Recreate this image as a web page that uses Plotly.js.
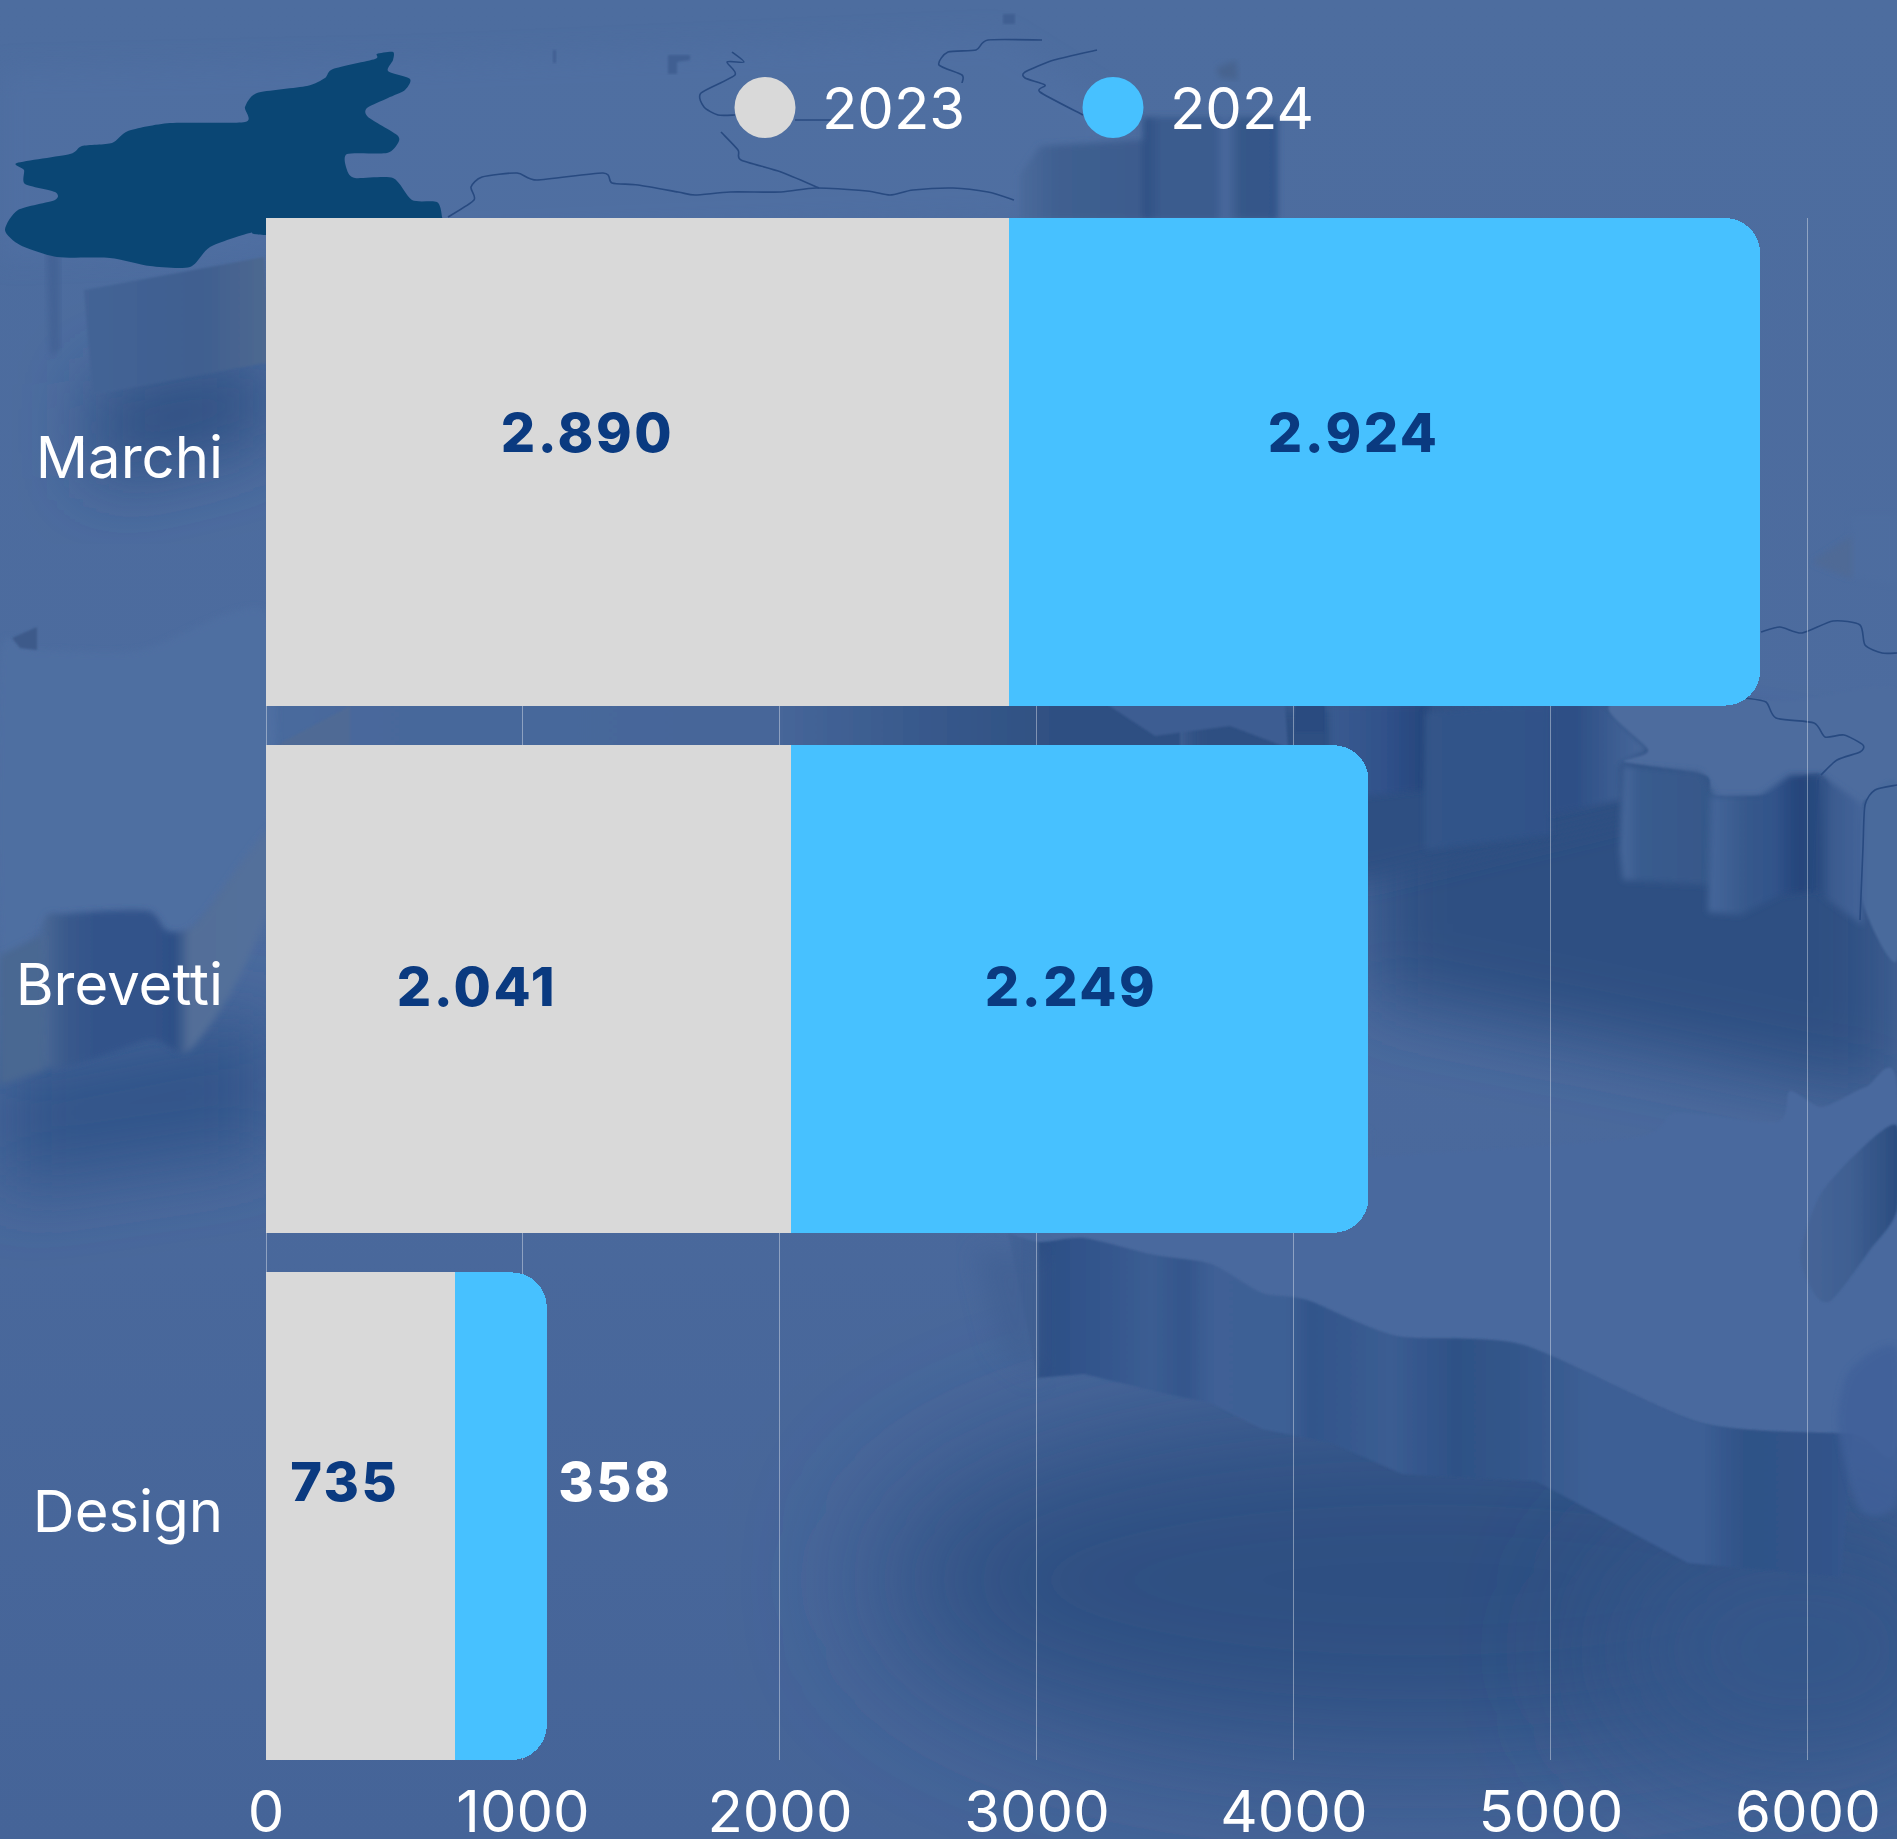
<!DOCTYPE html>
<html>
<head>
<meta charset="utf-8">
<script src="https://cdn.plot.ly/plotly-3.0.1.min.js"></script>
<style>html,body{margin:0;padding:0;background:#4c6b9e;overflow:hidden}#chart{width:1897px;height:1839px}</style>
</head>
<body>
<div id="chart"></div>
<script>
// ---- chart data ----
const categories = ["Marchi", "Brevetti", "Design"];
const seriesNames = ["2023", "2024"];
const values2023 = [2890, 2041, 735];
const values2024 = [2924, 2249, 358];
const xTicks = [0, 1000, 2000, 3000, 4000, 5000, 6000];

// ---- styling ----
const COL_2023 = "#d9d9d9", COL_2024 = "#47c1ff", COL_LABEL = "#0a3a80";
const W = 1897, H = 1839, L = 266, R = 86, T = 218, B = 79;
const X_MAX = 6012; // slightly past 6000 so that the last gridline is kept
const FONT = "Inter, 'Noto Sans', sans-serif";

// ---- decorative backdrop (relief map), drawn as one picture behind the chart ----
function sm(p, closed) {
  const n = p.length, g = i => closed ? p[(i + n) % n] : p[Math.max(0, Math.min(n - 1, i))];
  let d = "M" + p[0][0] + " " + p[0][1];
  const m = closed ? n : n - 1;
  for (let i = 0; i < m; i++) {
    const a = g(i - 1), b = g(i), c = g(i + 1), e = g(i + 2), k = 0.12;
    d += "C" + (b[0] + (c[0] - a[0]) * k).toFixed(1) + " " + (b[1] + (c[1] - a[1]) * k).toFixed(1) + " " +
         (c[0] - (e[0] - b[0]) * k).toFixed(1) + " " + (c[1] - (e[1] - b[1]) * k).toFixed(1) + " " + c[0] + " " + c[1];
  }
  return d + (closed ? "Z" : "");
}
function hgrad(id, x1, x2, stops) {
  return `<linearGradient id="${id}" gradientUnits="userSpaceOnUse" x1="${x1}" y1="0" x2="${x2}" y2="0">` +
    stops.map(s => `<stop offset="${((s[0] - x1) / (x2 - x1)).toFixed(4)}" stop-color="${s[1]}"/>`).join("") + `</linearGradient>`;
}
const poly = (pts, fill, filt, op) => `<path d="${sm(pts, true)}" fill="${fill}"${filt ? ` filter="url(#${filt})"` : ""}${op ? ` opacity="${op}"` : ""}/>`;
const hard = (pts, fill, filt, op) => `<path d="M${pts.map(p => p.join(" ")).join("L")}Z" fill="${fill}"${filt ? ` filter="url(#${filt})"` : ""}${op ? ` opacity="${op}"` : ""}/>`;
const line = pts => `<path d="${sm(pts, false)}" fill="none" stroke="#284a80" stroke-width="1.6" stroke-linejoin="round"/>`;

const piemonte = [[5,230],[18,210],[55,200],[55,192],[25,184],[24,170],[17,163],[70,154],[82,146],[112,143],[128,131],[170,123],[245,122],[245,107],[257,93],[307,86],[325,78],[333,69],[375,59],[377,54],[393,52],[393,60],[388,71],[410,79],[405,90],[388,98],[367,108],[368,117],[397,135],[398,143],[387,153],[347,154],[347,170],[355,178],[393,178],[412,200],[437,202],[442,217],[442,240],[266,235],[250,233],[210,247],[190,267],[150,266],[110,258],[57,257],[20,245]];
const islandTop = [[1008,1233],[1040,1242],[1084,1238],[1154,1255],[1211,1264],[1262,1293],[1307,1300],[1396,1336],[1523,1345],[1701,1423],[1853,1434]];
const islandBottom = [[1037,1378],[1084,1374],[1167,1394],[1211,1403],[1262,1429],[1332,1443],[1402,1474],[1536,1481],[1688,1563],[1841,1577]];

const bg = `<svg xmlns="http://www.w3.org/2000/svg" width="${W}" height="${H}" viewBox="0 0 ${W} ${H}">
<defs>
<linearGradient id="base" x1="0" y1="0" x2="0" y2="1"><stop offset="0" stop-color="#4d6d9f"/><stop offset="0.45" stop-color="#4c6b9e"/><stop offset="1" stop-color="#456498"/></linearGradient>
<filter id="b1" x="-5%" y="-5%" width="110%" height="110%"><feGaussianBlur stdDeviation="0.8"/></filter>
<filter id="b3" x="-10%" y="-10%" width="120%" height="120%"><feGaussianBlur stdDeviation="3"/></filter>
<filter id="b12" x="-30%" y="-30%" width="160%" height="160%"><feGaussianBlur stdDeviation="12"/></filter>
<filter id="b35" x="-50%" y="-50%" width="200%" height="200%"><feGaussianBlur stdDeviation="35"/></filter>
<filter id="b70" x="-60%" y="-60%" width="220%" height="220%"><feGaussianBlur stdDeviation="70"/></filter>
${hgrad("gGap", 266, 1180, [[266,"#4b6c9e"],[350,"#48689c"],[780,"#466699"],[900,"#3a5b8e"],[1060,"#2f5082"],[1180,"#2f5082"]])}
${hgrad("gIsl", 1000, 1860, [[1000,"#466598"],[1037,"#3f5f92"],[1040,"#2e5084"],[1075,"#30528a"],[1150,"#3b5d92"],[1185,"#34568c"],[1215,"#3f6096"],[1285,"#3e6095"],[1310,"#32558b"],[1390,"#3b5d92"],[1430,"#33558b"],[1455,"#2e5186"],[1515,"#33568a"],[1590,"#3d5f95"],[1700,"#3d5f95"],[1745,"#2f5287"],[1830,"#31538a"],[1860,"#3a5b90"]])}
${hgrad("gOval", 1800, 1897, [[1800,"#476698"],[1850,"#3f5f92"],[1897,"#2b4d80"]])}
${hgrad("gR0", 1330, 1430, [[1330,"#3a5b90"],[1385,"#30518a"],[1425,"#26467c"]])}
${hgrad("gR1", 1425, 1551, [[1425,"#34568a"],[1551,"#31538a"]])}
${hgrad("gR2", 1551, 1650, [[1551,"#2f5086"],[1575,"#2d4f86"],[1650,"#4a6a9c"]])}
${hgrad("gR3", 1623, 1715, [[1623,"#47689b"],[1640,"#395b8e"],[1715,"#365889"]])}
${hgrad("gR4", 1711, 1821, [[1711,"#45669a"],[1745,"#37598c"],[1775,"#31538a"],[1800,"#24447a"],[1821,"#2a4b80"]])}
${hgrad("gR5", 1821, 1865, [[1821,"#2b4c80"],[1830,"#3a5a8e"],[1865,"#45659a"]])}
${hgrad("gT", 1020, 1280, [[1020,"#4a6a9b"],[1060,"#3f5f90"],[1140,"#3c5c8e"],[1145,"#2f5084"],[1160,"#3a5b8e"],[1215,"#3a5b8e"],[1225,"#4a6a9e"],[1240,"#365889"],[1275,"#33558a"]])}
${hgrad("gLW", 43, 270, [[43,"#4a6895"],[65,"#3a5a8c"],[100,"#31528a"],[150,"#31528a"],[175,"#2e5086"],[190,"#536e98"],[270,"#52709c"]])}
${hgrad("gLW2", 84, 264, [[84,"#446496"],[200,"#3f5f90"],[264,"#4d6890"]])}
</defs>
<rect width="${W}" height="${H}" fill="url(#base)"/>
<!-- soft plateaus at the top -->
${hard([[0,70],[430,60],[1000,35],[1120,110],[1100,215],[0,260]],"#5171a4","b12",0.55)}
<!-- soft shadows -->
${hard([[1369,690],[1897,790],[1897,1100],[1369,995]],"#2f5082","b35")}
${hard([[1180,700],[1650,700],[1700,800],[1369,880],[1180,880]],"#2f5082","b12")}
${hard([[266,702],[1180,702],[1180,750],[266,750]],"url(#gGap)","b1")}
${hard([[275,746],[350,706],[350,746]],"#4f6a95","b1")}
${hard([[1108,705],[1285,705],[1288,748],[1230,726],[1155,736]],"#3c5d92","b1")}
${hard([[1295,705],[1325,705],[1325,732],[1295,732]],"#2b4b80","b1")}
${hard([[0,1060],[270,1010],[270,1150],[0,1190]],"#33548a","b35")}
${hard([[96,385],[266,352],[266,440],[96,480]],"#2f4f82","b35")}
<ellipse cx="1420" cy="1580" rx="540" ry="175" fill="#2f5082" filter="url(#b70)"/>
<ellipse cx="1800" cy="1650" rx="200" ry="130" fill="#34568a" filter="url(#b70)"/>
${hard([[1000,1130],[1369,1130],[1369,1232],[1000,1232]],"#4a699c","b3")}
<!-- top surface of the southern island -->
${poly([[1320,1160],[1631,1138],[1676,1113],[1777,1122],[1790,1091],[1822,1107],[1866,1087],[1897,1087],[1897,1440],[1853,1434],[1701,1423],[1523,1345],[1396,1336],[1307,1300],[1262,1293],[1211,1264],[1154,1255],[1084,1238],[1040,1242],[1008,1233],[1000,1180]],"#4a699e","b1")}
<!-- wall under the island -->
<path d="${sm(islandTop,false)}L${islandBottom.slice().reverse().map(p=>p.join(" ")).join("L")}Z" fill="url(#gIsl)" filter="url(#b1)"/>
<!-- soft end of the wall on its left -->
${hard([[975,1250],[1037,1255],[1037,1378],[1000,1350]],"#3f5f92","b12",0.65)}
<!-- oval on the right edge -->
${poly([[1897,1126],[1860,1150],[1820,1195],[1800,1255],[1815,1295],[1832,1300],[1870,1250],[1897,1210]],"url(#gOval)","b1")}
${poly([[1850,1370],[1897,1350],[1897,1500],[1860,1510],[1838,1425]],"#40609a","b3",0.8)}
<!-- walls at the right of the second bar -->
${hard([[1330,705],[1430,705],[1425,790],[1330,800]],"url(#gR0)","b3")}
${hard([[1425,712],[1551,700],[1551,835],[1425,850]],"url(#gR1)","b3",0.9)}
${hard([[1551,700],[1600,700],[1648,750],[1620,765],[1620,800],[1551,815]],"url(#gR2)","b3")}
<!-- lighter table at the right -->
${poly([[1610,705],[1745,700],[1800,700],[1897,690],[1897,800],[1865,800],[1855,830],[1822,775],[1795,780],[1765,795],[1712,795],[1705,775],[1625,762],[1648,750]],"#4d6c9e","b1")}
${poly([[1862,810],[1897,785],[1897,960],[1862,900]],"#496a9c","b1")}
${hard([[1623,765],[1700,772],[1715,795],[1711,885],[1623,880],[1620,850]],"url(#gR3)","b3")}
${hard([[1711,796],[1760,796],[1790,775],[1821,775],[1821,890],[1780,895],[1740,915],[1708,912]],"url(#gR4)","b3")}
${hard([[1821,775],[1863,805],[1863,925],[1821,895]],"url(#gR5)","b3")}
<!-- left side walls -->
${hard([[46,240],[60,240],[60,350],[50,355]],"#3f5e92","b3",0.7)}
${hard([[84,290],[264,257],[270,362],[92,395]],"url(#gLW2)","b1")}
${poly([[0,655],[37,650],[140,650],[266,612],[270,820],[197,923],[167,931],[147,911],[67,914],[43,925],[0,955]],"#4f6fa2","b3",0.85)}
${hard([[12,638],[37,627],[37,650],[20,648]],"#3c5a8a","b1")}
${poly([[43,925],[67,914],[147,911],[167,931],[197,923],[270,828],[270,905],[233,989],[187,1052],[150,1040],[43,1065]],"url(#gLW)","b3")}
${hard([[0,955],[43,935],[45,1070],[0,1085]],"#4a6792","b3")}
<!-- walls at the top middle -->
${hard([[1020,175],[1040,146],[1143,140],[1143,117],[1278,117],[1278,220],[1020,220]],"url(#gT)","b3")}
<!-- small marks near the top -->
${hard([[553,50],[556,50],[556,63],[553,63]],"#3f5f92","b1")}
${hard([[668,55],[690,55],[690,60],[677,62],[677,74],[668,74]],"#3f5f92","b1")}
${hard([[1003,14],[1015,14],[1015,24],[1003,24]],"#3f5f92","b1")}
${hard([[1216,68],[1236,60],[1238,80],[1220,78]],"#46648f","b3")}
${hard([[1852,537],[1813,562],[1852,578]],"#4f6790","b3")}
${hard([[1760,515],[1850,515],[1852,537],[1813,562],[1852,578],[1897,585],[1897,515]],"#4f6fa2","b3",0.35)}
<!-- border lines -->
${line([[448,217],[474,200],[471,187],[482,177],[517,173],[537,180],[603,173],[612,183],[638,185],[678,192],[695,195],[730,192],[781,192],[816,188],[867,191],[890,195],[913,190],[953,188],[988,192],[1014,200]])}
${line([[732,52],[744,62],[727,62],[735,75],[701,93],[704,107],[718,115],[735,115]])}
${line([[795,120],[833,120]])}
${line([[721,132],[738,150],[741,160],[781,172],[819,188]])}
${line([[1042,40],[988,40],[976,50],[948,52],[939,65],[962,75],[962,83]])}
${line([[1097,50],[1054,60],[1025,72],[1025,78],[1045,85],[1040,92],[1083,115]])}
${line([[1761,632],[1780,627],[1802,633],[1833,621],[1860,625],[1865,645],[1882,653],[1897,653]])}
${line([[1745,698],[1766,702],[1776,718],[1814,723],[1825,737],[1844,735],[1863,745],[1860,752],[1837,760],[1821,775]])}
${line([[1897,785],[1875,790],[1865,805],[1863,847],[1860,920]])}
${line([[1818,780],[1812,893]])}
<!-- Piemonte -->
${poly(piemonte,"#0a4674")}
</svg>`;
const bgUri = "data:image/svg+xml;charset=utf-8," + encodeURIComponent(bg);

// ---- pixel helpers for the paper coordinate system ----
const pw = W - L - R, ph = H - T - B;
const paperX = px => (px - L) / pw;
const paperY = py => 1 - (py - T) / ph;

// ---- value labels ----
const fmt = v => String(v).replace(/\B(?=(\d{3})+$)/g, ".");
// hand placement of each label relative to the centre of its segment, in pixels
const shift2023 = [[-50, 29], [-51, 3], [-15, 35]];
const shift2024 = [[-31, 29], [-8, 3], [115, 35]];
const labelColor2024 = [COL_LABEL, COL_LABEL, "#ffffff"];

const annotations = [];
categories.forEach((c, i) => {
  annotations.push({ x: values2023[i] / 2, y: c, xref: "x", yref: "y", text: fmt(values2023[i]), showarrow: false,
    xshift: shift2023[i][0], yshift: shift2023[i][1], font: { family: FONT, size: 54, weight: 800, color: COL_LABEL } });
  annotations.push({ x: values2023[i] + values2024[i] / 2, y: c, xref: "x", yref: "y", text: fmt(values2024[i]), showarrow: false,
    xshift: shift2024[i][0], yshift: shift2024[i][1], font: { family: FONT, size: 54, weight: 800, color: labelColor2024[i] } });
});

// ---- legend, hand placed as in the reference ----
const legendX = [765, 1113];
const legendTextX = [820, 1168];
const legendY = 107.5, legendR = 30.5;
const legendColors = [COL_2023, COL_2024];
const shapes = seriesNames.map((n, i) => ({
  type: "circle", xref: "paper", yref: "paper", layer: "above",
  x0: paperX(legendX[i] - legendR), x1: paperX(legendX[i] + legendR),
  y0: paperY(legendY + legendR), y1: paperY(legendY - legendR),
  fillcolor: legendColors[i], line: { width: 0 }
}));
seriesNames.forEach((n, i) => annotations.push({
  x: paperX(legendTextX[i]), y: paperY(legendY), xref: "paper", yref: "paper", xanchor: "left", yanchor: "middle",
  text: n, showarrow: false, font: { family: FONT, size: 58, color: "#ffffff" }
}));

const traces = [
  { type: "bar", orientation: "h", name: seriesNames[0], y: categories, x: values2023, marker: { color: COL_2023, line: { width: 0 } }, hoverinfo: "x+y" },
  { type: "bar", orientation: "h", name: seriesNames[1], y: categories, x: values2024, marker: { color: COL_2024, line: { width: 0 } }, hoverinfo: "x+y" }
];

const GRID = "rgba(255,255,255,0.38)";
const layout = {
  width: W, height: H,
  margin: { l: L, r: R, t: T, b: B, pad: 0 },
  paper_bgcolor: "rgba(0,0,0,0)", plot_bgcolor: "rgba(0,0,0,0)",
  barmode: "stack", bargap: 0.075, barcornerradius: 35,
  showlegend: false,
  xaxis: {
    range: [0, X_MAX], tickvals: xTicks, ticktext: xTicks.map(String), showgrid: true,
    gridcolor: GRID, gridwidth: 1, zeroline: true, zerolinecolor: GRID, zerolinewidth: 1,
    showline: false, ticks: "", ticklabelstandoff: 13,
    tickfont: { family: FONT, size: 58, color: "#ffffff" }
  },
  yaxis: {
    type: "category", range: [2.4625, -0.4625], categoryorder: "array", categoryarray: categories,
    showgrid: false, zeroline: false, showline: false, ticks: "", ticklabelstandoff: 42, ticklabelshift: 4,
    tickfont: { family: FONT, size: 58, color: "#ffffff" }
  },
  images: [{ source: bgUri, xref: "paper", yref: "paper", x: paperX(0), y: paperY(0), sizex: W / pw, sizey: H / ph, sizing: "stretch", xanchor: "left", yanchor: "top", layer: "below" }],
  shapes, annotations
};

Plotly.newPlot("chart", traces, layout, { displayModeBar: false, staticPlot: true }).then(() => {
  document.querySelectorAll(".annotation-text").forEach(t => {
    if (/^[\d.]+$/.test(t.textContent) && !seriesNames.includes(t.textContent)) t.style.letterSpacing = "2.5px";
  });
});
</script>
</body>
</html>
